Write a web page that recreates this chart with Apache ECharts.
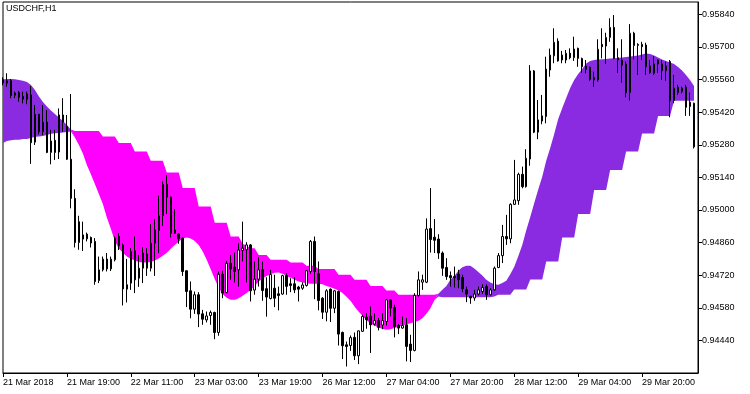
<!DOCTYPE html>
<html>
<head>
<meta charset="utf-8">
<title>USDCHF,H1</title>
<script src="https://cdn.jsdelivr.net/npm/echarts@6/dist/echarts.min.js"></script>
<style>
  html, body { margin: 0; padding: 0; background: #fff; }
  #chart { width: 750px; height: 394px; }
</style>
</head>
<body>
<div id="chart"></div>
<script>
// H1 bars, first one is 21 Mar 2018 03:00
const opens = [
  0.95560,0.95544,0.95555,0.95492,0.95504,0.95487,0.95475,0.95494,0.95291,0.95411,
  0.95336,0.95377,0.95247,0.95299,0.95249,0.95408,0.95358,0.95218,0.95050,0.94860,
  0.94875,0.94896,0.94882,0.94865,0.94697,0.94743,0.94789,0.94747,0.94786,0.94886,
  0.94850,0.94660,0.94686,0.94825,0.94707,0.94750,0.94811,0.94750,0.94857,0.94912,
  0.94975,0.95110,0.95055,0.94900,0.94897,0.94879,0.94739,0.94653,0.94574,0.94636,
  0.94554,0.94528,0.94547,0.94560,0.94474,0.94724,0.94645,0.94771,0.94754,0.94743,
  0.94826,0.94829,0.94850,0.94656,0.94703,0.94743,0.94662,0.94620,0.94664,0.94640,
  0.94639,0.94718,0.94683,0.94683,0.94669,0.94664,0.94676,0.94736,0.94865,0.94726,
  0.94621,0.94561,0.94660,0.94578,0.94650,0.94474,0.94421,0.94418,0.94453,0.94374,
  0.94479,0.94539,0.94543,0.94510,0.94525,0.94506,0.94521,0.94614,0.94581,0.94504,
  0.94493,0.94507,0.94424,0.94397,0.94633,0.94690,0.94690,0.94920,0.94883,0.94875,
  0.94815,0.94753,0.94718,0.94714,0.94724,0.94710,0.94657,0.94629,0.94622,0.94639,
  0.94650,0.94671,0.94636,0.94657,0.94753,0.94804,0.94886,0.94876,0.95024,0.95040,
  0.95153,0.95100,0.95219,0.95597,0.95334,0.95382,0.95401,0.95601,0.95662,0.95725,
  0.95665,0.95644,0.95673,0.95654,0.95694,0.95650,0.95618,0.95613,0.95568,0.95558,
  0.95711,0.95704,0.95741,0.95784,0.95654,0.95644,0.95627,0.95504,0.95759,0.95711,
  0.95711,0.95708,0.95618,0.95587,0.95644,0.95627,0.95598,0.95637,0.95470,0.95527,
  0.95508,0.95527,0.95444,0.95458
];
const closes = [
  0.95545,0.95555,0.95491,0.95502,0.95484,0.95476,0.95498,0.95289,0.95411,0.95336,
  0.95377,0.95247,0.95296,0.95247,0.95408,0.95377,0.95218,0.95050,0.94860,0.94950,
  0.94893,0.94876,0.94858,0.94693,0.94743,0.94789,0.94747,0.94789,0.94879,0.94846,
  0.94661,0.94679,0.94822,0.94700,0.94750,0.94815,0.94750,0.94857,0.94914,0.94975,
  0.95110,0.95055,0.94900,0.94914,0.94876,0.94736,0.94650,0.94574,0.94636,0.94553,
  0.94531,0.94545,0.94560,0.94474,0.94724,0.94643,0.94771,0.94747,0.94736,0.94828,
  0.94836,0.94850,0.94653,0.94703,0.94743,0.94654,0.94626,0.94723,0.94621,0.94633,
  0.94718,0.94672,0.94676,0.94657,0.94660,0.94678,0.94739,0.94865,0.94736,0.94611,
  0.94561,0.94653,0.94578,0.94653,0.94467,0.94417,0.94414,0.94452,0.94374,0.94481,
  0.94543,0.94529,0.94507,0.94525,0.94496,0.94525,0.94614,0.94579,0.94500,0.94493,
  0.94504,0.94414,0.94397,0.94633,0.94700,0.94700,0.94918,0.94873,0.94870,0.94815,
  0.94750,0.94714,0.94709,0.94709,0.94700,0.94662,0.94639,0.94622,0.94639,0.94657,
  0.94667,0.94636,0.94657,0.94750,0.94804,0.94886,0.94876,0.95024,0.95043,0.95153,
  0.95100,0.95222,0.95597,0.95334,0.95387,0.95404,0.95605,0.95665,0.95720,0.95640,
  0.95644,0.95673,0.95654,0.95691,0.95651,0.95615,0.95604,0.95561,0.95558,0.95690,
  0.95701,0.95741,0.95784,0.95651,0.95644,0.95622,0.95504,0.95759,0.95706,0.95707,
  0.95701,0.95615,0.95590,0.95627,0.95627,0.95598,0.95618,0.95470,0.95523,0.95504,
  0.95523,0.95441,0.95463,0.95271
];
const lows = [
  0.95535,0.95529,0.95480,0.95480,0.95465,0.95458,0.95454,0.95198,0.95279,0.95325,
  0.95322,0.95244,0.95196,0.95215,0.95219,0.95336,0.95215,0.95007,0.94839,0.94829,
  0.94824,0.94865,0.94839,0.94679,0.94686,0.94736,0.94736,0.94738,0.94779,0.94828,
  0.94590,0.94603,0.94657,0.94643,0.94670,0.94686,0.94717,0.94736,0.94717,0.94815,
  0.94932,0.94983,0.94882,0.94897,0.94855,0.94717,0.94583,0.94535,0.94554,0.94497,
  0.94507,0.94517,0.94507,0.94445,0.94460,0.94621,0.94643,0.94700,0.94689,0.94671,
  0.94779,0.94689,0.94607,0.94636,0.94671,0.94610,0.94542,0.94616,0.94583,0.94569,
  0.94636,0.94636,0.94647,0.94643,0.94607,0.94657,0.94671,0.94726,0.94617,0.94569,
  0.94532,0.94522,0.94519,0.94557,0.94418,0.94360,0.94328,0.94395,0.94356,0.94338,
  0.94476,0.94490,0.94386,0.94504,0.94483,0.94488,0.94504,0.94543,0.94453,0.94467,
  0.94490,0.94350,0.94347,0.94393,0.94628,0.94657,0.94686,0.94817,0.94815,0.94790,
  0.94717,0.94700,0.94671,0.94667,0.94664,0.94647,0.94604,0.94597,0.94610,0.94633,
  0.94639,0.94614,0.94633,0.94653,0.94750,0.94772,0.94850,0.94857,0.95022,0.95022,
  0.95093,0.95096,0.95190,0.95330,0.95304,0.95368,0.95372,0.95572,0.95630,0.95637,
  0.95630,0.95630,0.95647,0.95640,0.95615,0.95589,0.95587,0.95555,0.95529,0.95551,
  0.95651,0.95627,0.95722,0.95647,0.95589,0.95547,0.95484,0.95470,0.95647,0.95580,
  0.95644,0.95580,0.95584,0.95580,0.95589,0.95558,0.95555,0.95398,0.95458,0.95494,
  0.95501,0.95404,0.95404,0.95264
];
const highs = [
  0.95570,0.95587,0.95562,0.95508,0.95511,0.95508,0.95508,0.95532,0.95451,0.95412,
  0.95451,0.95429,0.95344,0.95344,0.95436,0.95480,0.95408,0.95498,0.95089,0.94975,
  0.94950,0.94903,0.94886,0.94879,0.94800,0.94800,0.94815,0.94800,0.94886,0.94900,
  0.94857,0.94790,0.94836,0.94886,0.94807,0.94840,0.94836,0.94939,0.94960,0.95061,
  0.95122,0.95150,0.95058,0.95004,0.94900,0.94882,0.94740,0.94693,0.94650,0.94647,
  0.94571,0.94564,0.94568,0.94563,0.94736,0.94739,0.94781,0.94807,0.94817,0.94857,
  0.94950,0.94862,0.94854,0.94779,0.94798,0.94779,0.94711,0.94743,0.94722,0.94671,
  0.94722,0.94729,0.94707,0.94711,0.94674,0.94689,0.94743,0.94871,0.94886,0.94779,
  0.94626,0.94660,0.94663,0.94657,0.94654,0.94478,0.94435,0.94461,0.94474,0.94482,
  0.94550,0.94557,0.94586,0.94557,0.94536,0.94557,0.94618,0.94618,0.94593,0.94510,
  0.94543,0.94536,0.94464,0.94643,0.94736,0.94722,0.94964,0.95094,0.94961,0.94896,
  0.94822,0.94793,0.94736,0.94757,0.94743,0.94722,0.94671,0.94632,0.94657,0.94671,
  0.94681,0.94681,0.94664,0.94757,0.94815,0.94936,0.94979,0.95029,0.95215,0.95160,
  0.95186,0.95261,0.95622,0.95601,0.95472,0.95494,0.95658,0.95693,0.95780,0.95737,
  0.95683,0.95687,0.95694,0.95744,0.95697,0.95654,0.95644,0.95615,0.95594,0.95733,
  0.95780,0.95761,0.95823,0.95837,0.95694,0.95733,0.95637,0.95798,0.95765,0.95716,
  0.95722,0.95718,0.95644,0.95661,0.95647,0.95644,0.95637,0.95644,0.95580,0.95537,
  0.95529,0.95537,0.95504,0.95461
];

// cloud: smooth line and stepped line
const smoothLine = [
  0.95560,0.95562,0.95562,0.95561,0.95558,0.95555,0.95550,0.95537,0.95515,0.95487,
  0.95464,0.95444,0.95427,0.95412,0.95397,0.95382,0.95365,0.95346,0.95311,0.95279,
  0.95243,0.95193,0.95153,0.95112,0.95069,0.95026,0.94968,0.94919,0.94867,0.94835,
  0.94816,0.94800,0.94791,0.94783,0.94777,0.94775,0.94774,0.94777,0.94783,0.94792,
  0.94803,0.94816,0.94833,0.94850,0.94864,0.94878,0.94882,0.94878,0.94867,0.94850,
  0.94822,0.94786,0.94745,0.94704,0.94666,0.94638,0.94623,0.94615,0.94614,0.94621,
  0.94632,0.94644,0.94657,0.94674,0.94692,0.94707,0.94717,0.94724,0.94730,0.94731,
  0.94726,0.94717,0.94709,0.94700,0.94693,0.94689,0.94685,0.94683,0.94683,0.94683,
  0.94681,0.94674,0.94668,0.94662,0.94654,0.94644,0.94627,0.94610,0.94586,0.94564,
  0.94546,0.94526,0.94514,0.94503,0.94496,0.94489,0.94486,0.94488,0.94493,0.94499,
  0.94504,0.94509,0.94514,0.94519,0.94524,0.94535,0.94554,0.94578,0.94612,0.94640,
  0.94657,0.94674,0.94700,0.94717,0.94739,0.94754,0.94760,0.94760,0.94749,0.94734,
  0.94719,0.94700,0.94689,0.94681,0.94679,0.94686,0.94696,0.94724,0.94756,0.94801,
  0.94850,0.94913,0.94970,0.95030,0.95088,0.95143,0.95211,0.95266,0.95326,0.95391,
  0.95437,0.95481,0.95524,0.95558,0.95584,0.95605,0.95629,0.95640,0.95644,0.95646,
  0.95647,0.95648,0.95650,0.95651,0.95653,0.95655,0.95657,0.95659,0.95661,0.95663,
  0.95668,0.95672,0.95670,0.95663,0.95655,0.95646,0.95640,0.95633,0.95627,0.95614,
  0.95599,0.95580,0.95558,0.95532
];
const stepLine = [
  0.95288,0.95296,0.95299,0.95301,0.95301,0.95305,0.95305,0.95309,0.95314,0.95316,
  0.95318,0.95322,0.95327,0.95329,0.95331,0.95333,0.95335,0.95337,0.95339,0.95339,
  0.95339,0.95339,0.95339,0.95339,0.95339,0.95315,0.95315,0.95315,0.95315,0.95288,
  0.95288,0.95288,0.95288,0.95251,0.95251,0.95251,0.95251,0.95211,0.95211,0.95211,
  0.95211,0.95161,0.95161,0.95161,0.95161,0.95094,0.95094,0.95094,0.95094,0.95015,
  0.95015,0.95015,0.95015,0.94945,0.94945,0.94945,0.94945,0.94886,0.94886,0.94886,
  0.94855,0.94846,0.94836,0.94836,0.94807,0.94807,0.94807,0.94786,0.94786,0.94786,
  0.94786,0.94786,0.94774,0.94774,0.94774,0.94774,0.94760,0.94760,0.94760,0.94747,
  0.94747,0.94747,0.94747,0.94747,0.94722,0.94722,0.94722,0.94722,0.94700,0.94700,
  0.94700,0.94700,0.94674,0.94674,0.94674,0.94674,0.94654,0.94654,0.94654,0.94636,
  0.94636,0.94636,0.94636,0.94636,0.94636,0.94636,0.94636,0.94636,0.94636,0.94629,
  0.94625,0.94625,0.94625,0.94625,0.94625,0.94625,0.94625,0.94625,0.94625,0.94625,
  0.94625,0.94625,0.94625,0.94629,0.94636,0.94636,0.94636,0.94636,0.94659,0.94659,
  0.94659,0.94659,0.94701,0.94701,0.94701,0.94701,0.94779,0.94779,0.94779,0.94779,
  0.94882,0.94882,0.94882,0.94882,0.94983,0.94983,0.94983,0.94983,0.95086,0.95086,
  0.95086,0.95086,0.95172,0.95172,0.95172,0.95172,0.95251,0.95251,0.95251,0.95251,
  0.95328,0.95328,0.95328,0.95328,0.95404,0.95404,0.95404,0.95404,0.95469,0.95469,
  0.95469,0.95469,0.95469,0.95469
];

const tickLabels = [
  "21 Mar 2018", "21 Mar 19:00", "22 Mar 11:00", "23 Mar 03:00", "23 Mar 19:00",
  "26 Mar 12:00", "27 Mar 04:00", "27 Mar 20:00", "28 Mar 12:00", "29 Mar 04:00",
  "29 Mar 20:00"
];
const labelEvery = 16;

// hourly bar times, friday closes after the 22:00 bar
const mon = ["Jan","Feb","Mar","Apr","May","Jun","Jul","Aug","Sep","Oct","Nov","Dec"];
const categories = [];
let t = Date.UTC(2018, 2, 21, 3);
while (categories.length < opens.length + 1) {
  const d = new Date(t);
  const wd = d.getUTCDay();
  const skip = wd === 6 || wd === 0 || (wd === 5 && d.getUTCHours() === 23);
  if (!skip) {
    categories.push(d.getUTCDate() + " " + mon[d.getUTCMonth()] + " " +
      String(d.getUTCHours()).padStart(2, "0") + ":00");
  }
  t += 3600000;
}

const candles = opens.map((o, i) => [o, closes[i], lows[i], highs[i]]);
const cloudBase = smoothLine.map((s, i) => Math.min(s, stepLine[i]));
const upBand = smoothLine.map((s, i) => Math.max(s - stepLine[i], 0));
const downBand = smoothLine.map((s, i) => Math.max(stepLine[i] - s, 0));

const chart = echarts.init(document.getElementById("chart"));
const font = "Liberation Sans, Arial, sans-serif";

const option = {
  animation: false,
  backgroundColor: "#ffffff",
  title: {
    text: "USDCHF,H1",
    left: 6,
    top: 4,
    padding: 0,
    textStyle: { fontFamily: font, fontSize: 9, fontWeight: "normal", color: "#000" }
  },
  grid: {
    left: 2, right: 52, top: 2, bottom: 21,
    show: true, borderColor: "#000", borderWidth: 1, backgroundColor: "transparent"
  },
  xAxis: {
    type: "category",
    data: categories,
    boundaryGap: false,
    axisLine: { show: true, lineStyle: { color: "#000", width: 1 } },
    axisTick: {
      show: true, length: 4, lineStyle: { color: "#000" },
      interval: (i) => i % labelEvery === 0 && i < opens.length
    },
    axisLabel: {
      interval: (i) => i % labelEvery === 0 && i < opens.length,
      formatter: (v, i) => tickLabels[i / labelEvery] || "",
      align: "left",
      margin: 5,
      color: "#000",
      fontFamily: font,
      fontSize: 9
    },
    splitLine: { show: false }
  },
  yAxis: {
    type: "value",
    position: "right",
    min: 0.9430,
    max: 0.95893,
    interval: 0.0014,
    axisLine: { show: true, lineStyle: { color: "#000", width: 1 } },
    axisTick: { show: true, length: 4, lineStyle: { color: "#000" } },
    axisLabel: {
      showMinLabel: false,
      showMaxLabel: false,
      margin: 4,
      color: "#000",
      fontFamily: font,
      fontSize: 9,
      formatter: (v) => v.toFixed(5)
    },
    splitLine: { show: false }
  },
  series: [
    {
      name: "base", type: "line", data: cloudBase, stack: "cloud", stackStrategy: "all",
      symbol: "none", silent: true, lineStyle: { opacity: 0 }, z: 1
    },
    {
      name: "up", type: "line", data: upBand, stack: "cloud", stackStrategy: "all",
      symbol: "none", silent: true, lineStyle: { opacity: 0 },
      areaStyle: { color: "#8A2BE2", opacity: 1 }, z: 1
    },
    {
      name: "down", type: "line", data: downBand, stack: "cloud", stackStrategy: "all",
      symbol: "none", silent: true, lineStyle: { opacity: 0 },
      areaStyle: { color: "#FF00FF", opacity: 1 }, z: 1
    },
    {
      name: "USDCHF", type: "candlestick", data: candles, barWidth: 2, z: 5,
      itemStyle: {
        color: "#ffffff", color0: "#000000",
        borderColor: "#000000", borderColor0: "#000000", borderWidth: 1
      }
    }
  ]
};

chart.setOption(option);
</script>
</body>
</html>
